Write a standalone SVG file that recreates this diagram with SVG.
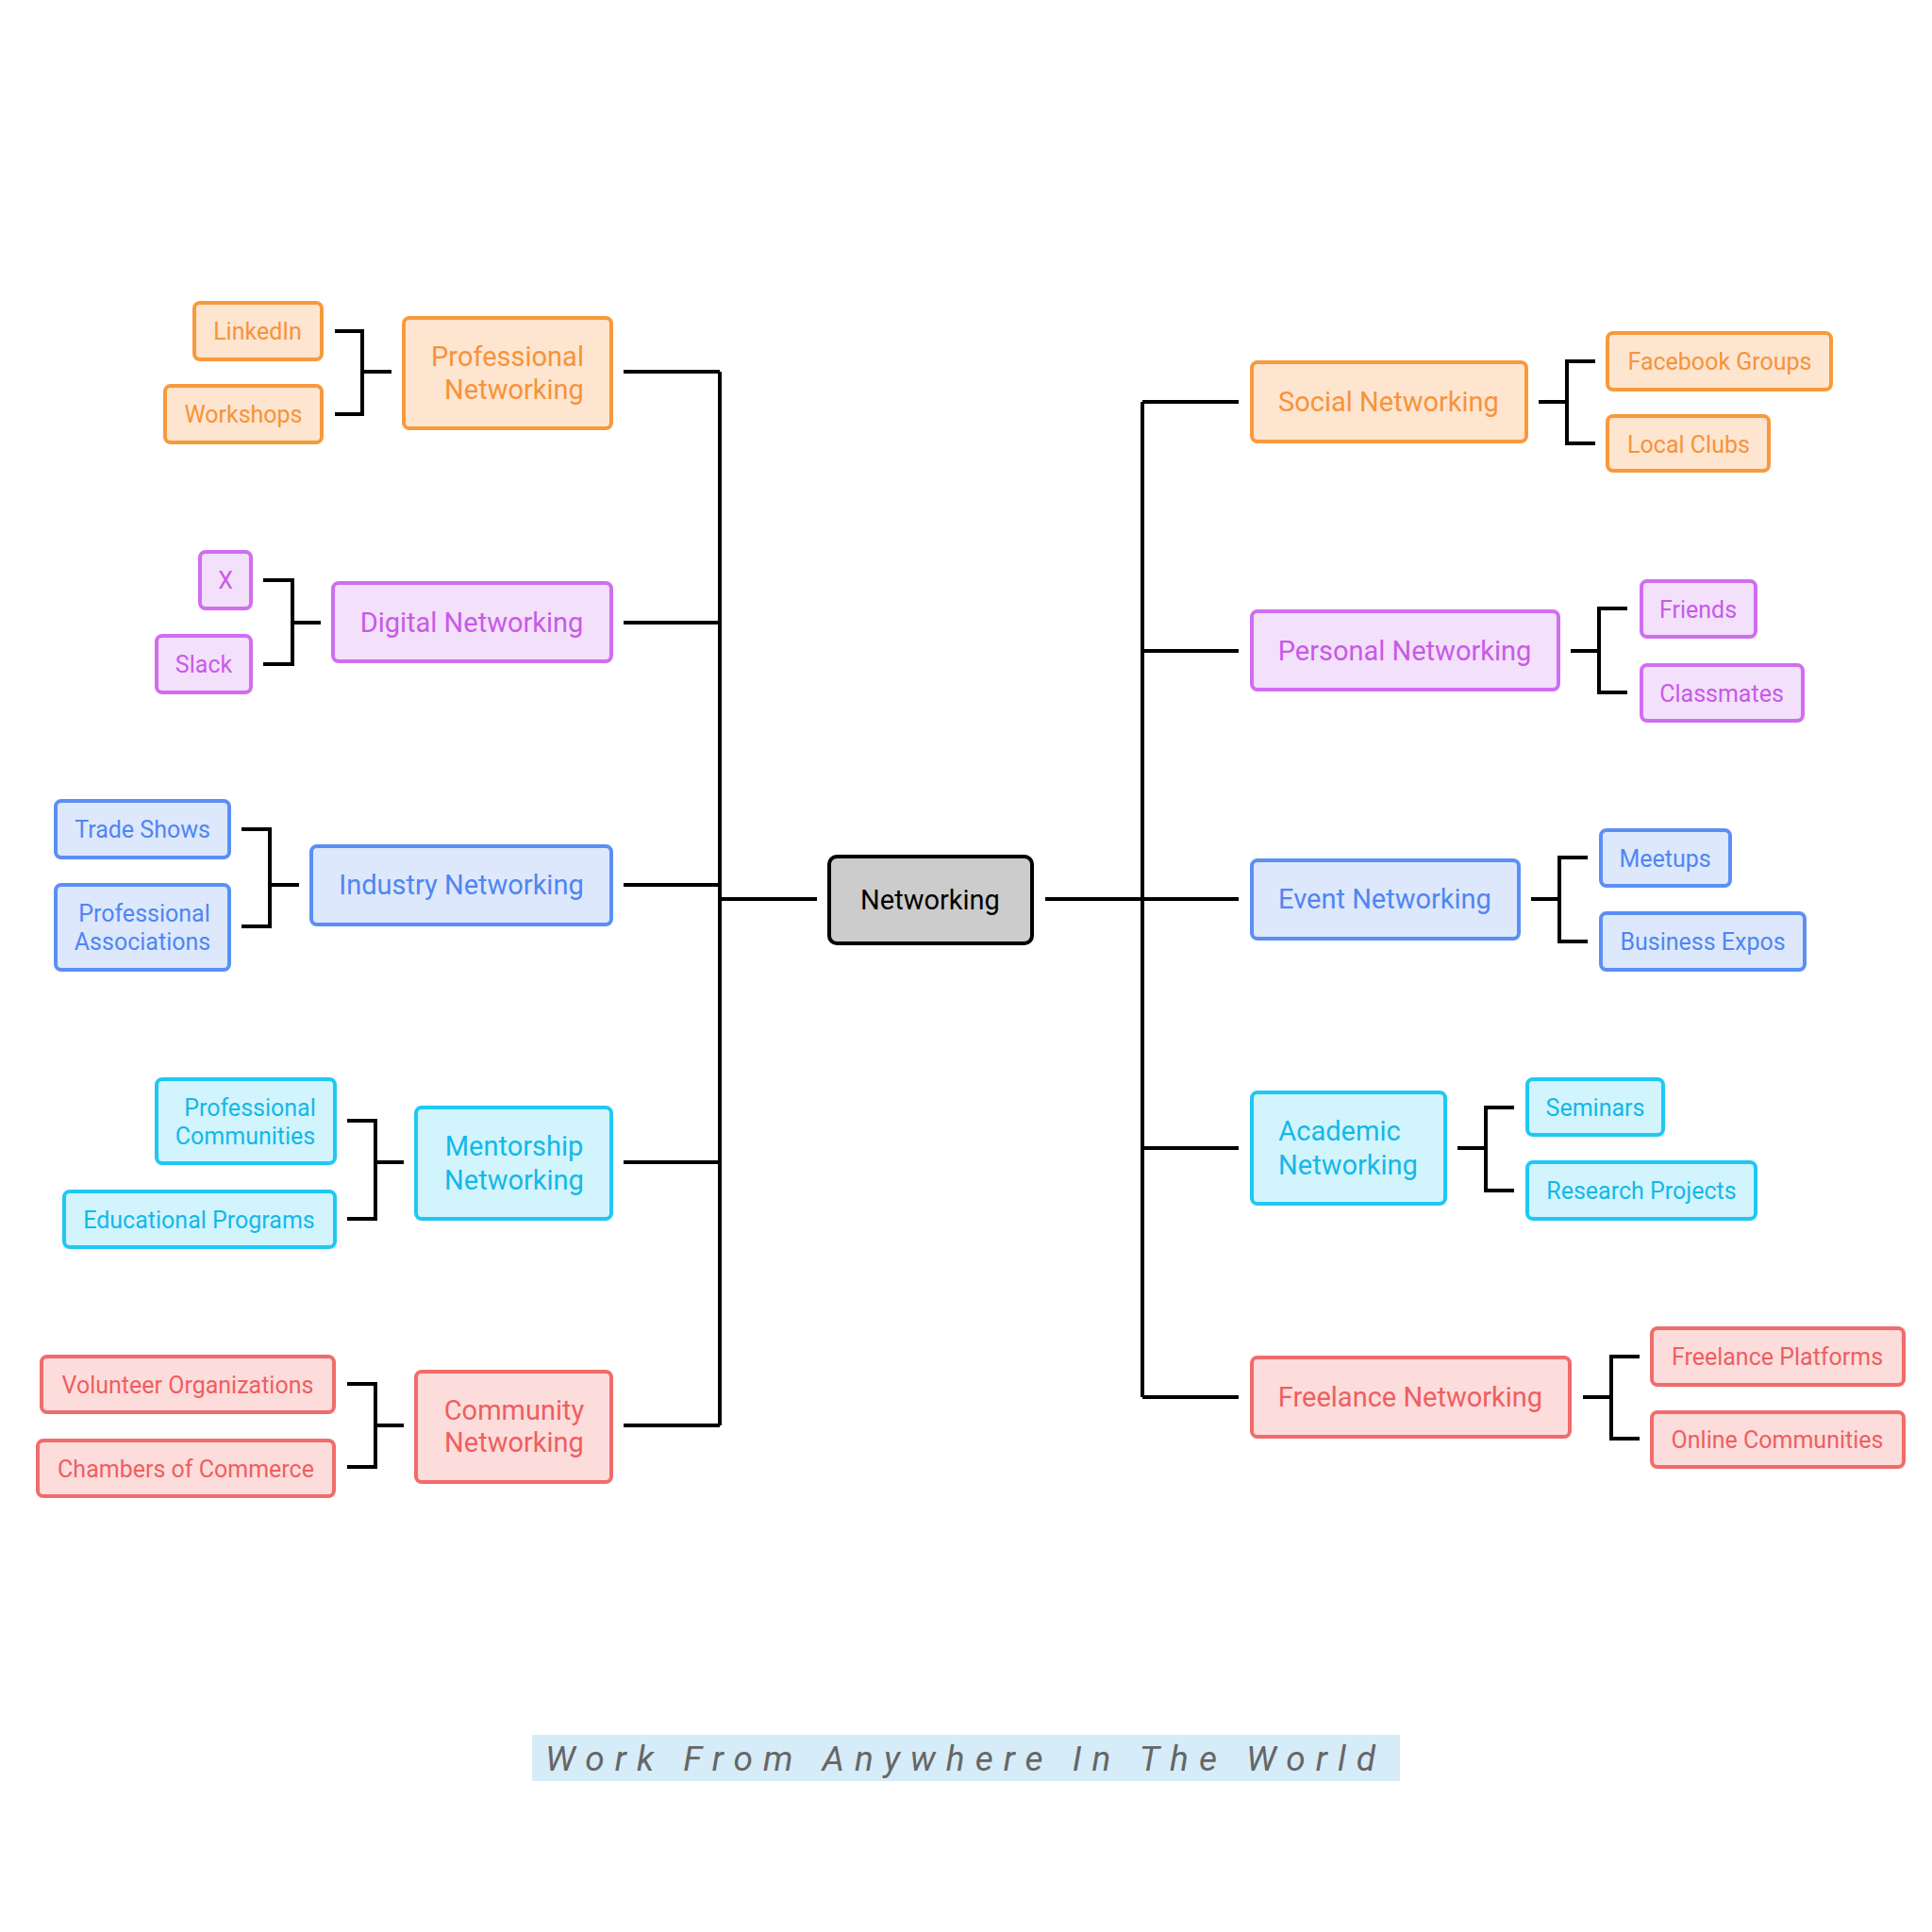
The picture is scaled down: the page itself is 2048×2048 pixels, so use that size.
<svg xmlns="http://www.w3.org/2000/svg" width="2048" height="2048" viewBox="0 0 2048 2048">
<style>
text{font-family:Roboto,"Liberation Sans",sans-serif;text-anchor:middle;dominant-baseline:central}
.m{font-size:29px}.l{font-size:25px}
rect{stroke-width:4}
.o rect{fill:#fde5d0;stroke:#f79a3c}.o text{fill:#f7933a}
.p rect{fill:#f3e0fa;stroke:#d06ef0}.p text{fill:#c85ae8}
.b rect{fill:#dde8fd;stroke:#5b8ff5}.b text{fill:#4f86f0}
.c rect{fill:#d2f4fd;stroke:#1fc8f3}.c text{fill:#14b8e8}
.r rect{fill:#fddcdc;stroke:#f06c6c}.r text{fill:#ee5f5f}
#edges path{fill:none;stroke:#000;stroke-width:4}
</style>
<rect width="2048" height="2048" fill="#fff"/>
<g id="edges">
<path d="M866 953H763M763 394V1511M661 394H763M661 660H763M661 938H763M661 1232H763M661 1511H763"/>
<path d="M1108 953H1211M1211 426V1481M1211 426H1313M1211 690H1313M1211 953H1313M1211 1217H1313M1211 1481H1313"/>
<path d="M415 394H384M355 351H384V439H355"/>
<path d="M340 660H310M279 615H310V704H279"/>
<path d="M317 938H286M256 879H286V982H256"/>
<path d="M428 1232H398M368 1188H398V1292H368"/>
<path d="M428 1511H398M368 1467H398V1555H368"/>
<path d="M1631 426H1661M1691 383H1661V470H1691"/>
<path d="M1665 690H1695M1725 645H1695V734H1725"/>
<path d="M1623 953H1653M1683 909H1653V998H1683"/>
<path d="M1545 1217H1575M1605 1174H1575V1262H1605"/>
<path d="M1678 1481H1708M1738 1438H1708V1525H1738"/>
</g>
<g id="center"><rect x="879" y="908" width="215" height="92" rx="8" fill="#cccccc" stroke="#000" stroke-width="5"/><text x="986" y="954" font-size="29" fill="#000">Networking</text></g>
<g id="prof" class="o"><rect x="428" y="337" width="220" height="117" rx="6"/><text class="m" x="538" y="378">Professional</text><text class="m" x="545" y="413">Networking</text></g>
<g id="linkedin" class="o"><rect x="206" y="321" width="135" height="60" rx="6"/><text class="l" x="273" y="351">LinkedIn</text></g>
<g id="workshops" class="o"><rect x="175" y="409" width="166" height="60" rx="6"/><text class="l" x="258" y="439">Workshops</text></g>
<g id="digital" class="p"><rect x="353" y="618" width="295" height="83" rx="6"/><text class="m" x="500" y="660">Digital Networking</text></g>
<g id="x" class="p"><rect x="212" y="585" width="54" height="60" rx="6"/><text class="l" x="239" y="615">X</text></g>
<g id="slack" class="p"><rect x="166" y="674" width="100" height="60" rx="6"/><text class="l" x="216" y="704">Slack</text></g>
<g id="industry" class="b"><rect x="330" y="897" width="318" height="83" rx="6"/><text class="m" x="489" y="938">Industry Networking</text></g>
<g id="trade" class="b"><rect x="59" y="849" width="184" height="60" rx="6"/><text class="l" x="151" y="879">Trade Shows</text></g>
<g id="assoc" class="b"><rect x="59" y="938" width="184" height="90" rx="6"/><text class="l" x="153" y="968">Professional</text><text class="l" x="151" y="998">Associations</text></g>
<g id="mentor" class="c"><rect x="441" y="1174" width="207" height="118" rx="6"/><text class="m" x="545" y="1215">Mentorship</text><text class="m" x="545" y="1251">Networking</text></g>
<g id="profcomm" class="c"><rect x="166" y="1144" width="189" height="89" rx="6"/><text class="l" x="265" y="1174">Professional</text><text class="l" x="260" y="1204">Communities</text></g>
<g id="edu" class="c"><rect x="68" y="1263" width="287" height="59" rx="6"/><text class="l" x="211" y="1293">Educational Programs</text></g>
<g id="community" class="r"><rect x="441" y="1454" width="207" height="117" rx="6"/><text class="m" x="545" y="1495">Community</text><text class="m" x="545" y="1529">Networking</text></g>
<g id="volunteer" class="r"><rect x="44" y="1438" width="310" height="59" rx="6"/><text class="l" x="199" y="1468">Volunteer Organizations</text></g>
<g id="chambers" class="r"><rect x="40" y="1527" width="314" height="59" rx="6"/><text class="l" x="197" y="1557">Chambers of Commerce</text></g>
<g id="social" class="o"><rect x="1327" y="384" width="291" height="84" rx="6"/><text class="m" x="1472" y="426">Social Networking</text></g>
<g id="fb" class="o"><rect x="1704" y="353" width="237" height="60" rx="6"/><text class="l" x="1823" y="383">Facebook Groups</text></g>
<g id="clubs" class="o"><rect x="1704" y="441" width="171" height="58" rx="6"/><text class="l" x="1790" y="471">Local Clubs</text></g>
<g id="personal" class="p"><rect x="1327" y="648" width="325" height="83" rx="6"/><text class="m" x="1489" y="690">Personal Networking</text></g>
<g id="friends" class="p"><rect x="1740" y="616" width="121" height="59" rx="6"/><text class="l" x="1800" y="646">Friends</text></g>
<g id="classmates" class="p"><rect x="1740" y="705" width="171" height="59" rx="6"/><text class="l" x="1825" y="735">Classmates</text></g>
<g id="event" class="b"><rect x="1327" y="912" width="283" height="83" rx="6"/><text class="m" x="1468" y="953">Event Networking</text></g>
<g id="meetups" class="b"><rect x="1697" y="880" width="137" height="59" rx="6"/><text class="l" x="1765" y="910">Meetups</text></g>
<g id="expos" class="b"><rect x="1697" y="968" width="216" height="60" rx="6"/><text class="l" x="1805" y="998">Business Expos</text></g>
<g id="academic" class="c"><rect x="1327" y="1158" width="205" height="118" rx="6"/><text class="m" x="1420" y="1199">Academic</text><text class="m" x="1429" y="1235">Networking</text></g>
<g id="seminars" class="c"><rect x="1619" y="1144" width="144" height="59" rx="6"/><text class="l" x="1691" y="1174">Seminars</text></g>
<g id="research" class="c"><rect x="1619" y="1232" width="242" height="60" rx="6"/><text class="l" x="1740" y="1262">Research Projects</text></g>
<g id="freelance" class="r"><rect x="1327" y="1439" width="337" height="84" rx="6"/><text class="m" x="1495" y="1481">Freelance Networking</text></g>
<g id="platforms" class="r"><rect x="1751" y="1408" width="267" height="60" rx="6"/><text class="l" x="1884" y="1438">Freelance Platforms</text></g>
<g id="online" class="r"><rect x="1751" y="1497" width="267" height="58" rx="6"/><text class="l" x="1884" y="1526">Online Communities</text></g>
<g id="footer"><rect x="564" y="1839" width="920" height="49" fill="#d6ecf8"/><text x="1018" y="1864" font-size="37" font-style="italic" fill="#666" textLength="880" lengthAdjust="spacing">Work From Anywhere In The World</text></g>
</svg>
